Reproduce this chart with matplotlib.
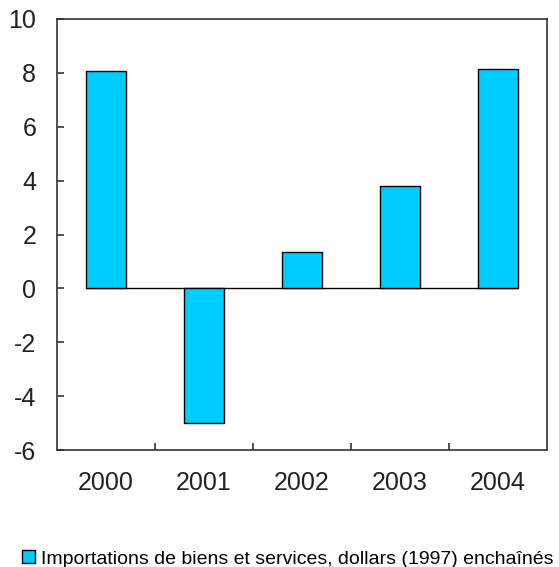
import matplotlib
matplotlib.use("Agg")
import matplotlib.pyplot as plt
from matplotlib.patches import Patch

plt.rcParams["font.family"] = ["Liberation Sans", "DejaVu Sans"]

years = ["2000", "2001", "2002", "2003", "2004"]
values = [8.07, -4.98, 1.36, 3.80, 8.14]
y_ticks = [-6, -4, -2, 0, 2, 4, 6, 8, 10]
series_label = "Importations de biens et services, dollars (1997) enchaînés"

bar_color = "#00CCFF"
spine_color = "#333333"

fig = plt.figure(figsize=(5.59, 5.67), dpi=100)
ax = fig.add_axes([0.102, 0.2063, 0.8765, 0.7602])

x = list(range(len(years)))
width = 0.41
bars = ax.bar(x, values, width=width, color=bar_color, edgecolor="black",
              linewidth=1.0, zorder=3)

# baseline at zero spanning the bars only
ax.hlines(0, x[0] - width / 2, x[-1] + width / 2, color="black",
          linewidth=1.0, zorder=2)

ax.set_xlim(-0.5, len(years) - 0.5)
ax.set_ylim(-6, 10)
ax.set_yticks(y_ticks)
ax.set_yticklabels([str(t) for t in y_ticks])

# category labels centred, tick marks at the boundaries between categories
ax.set_xticks(x)
ax.set_xticklabels(years)
ax.set_xticks([i + 0.5 for i in x[:-1]], minor=True)
ax.tick_params(axis="x", which="major", length=0, pad=15, labelsize=18,
               colors="#222222")
ax.tick_params(axis="x", which="minor", direction="in", length=5, width=1.2,
               color=spine_color)
ax.tick_params(axis="y", direction="in", length=5, width=1.2,
               color=spine_color, pad=15, labelsize=18, labelcolor="#222222")

for s in ax.spines.values():
    s.set_color(spine_color)
    s.set_linewidth(1.2)

handle = Patch(facecolor=bar_color, edgecolor="black", linewidth=1.0)
fig.legend([handle], [series_label], loc="center left",
           bbox_to_anchor=(0.04, 0.014), frameon=False, fontsize=14,
           handlelength=0.65, handleheight=0.65, handletextpad=0.3,
           borderpad=0, borderaxespad=0)

fig.savefig("out.png", dpi=100)
